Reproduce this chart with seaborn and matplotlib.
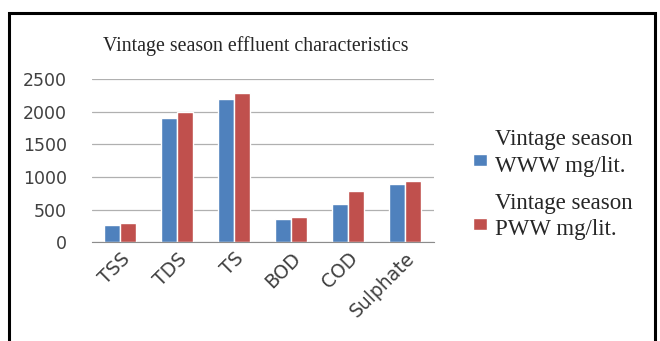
import pandas as pd
import seaborn as sns
import matplotlib.pyplot as plt
from matplotlib.patches import Rectangle
from matplotlib.legend_handler import HandlerPatch

params = ['TSS', 'TDS', 'TS', 'BOD', 'COD', 'Sulphate']
www = [270, 1900, 2200, 350, 590, 890]
pww = [290, 2000, 2290, 390, 790, 940]
series = ['Vintage season\nWWW mg/lit.', 'Vintage season\nPWW mg/lit.']

df = pd.DataFrame({'Parameter': params * 2,
                   'Value': www + pww,
                   'Series': [series[0]] * len(params) + [series[1]] * len(params)})

sns.set_style('white')
plt.rcParams['font.family'] = ['DejaVu Sans']

fig = plt.figure(figsize=(6.6, 3.41), dpi=100)
ax = fig.add_axes([0.139, 0.29, 0.518, 0.478])

sns.barplot(data=df, x='Parameter', y='Value', hue='Series',
            palette=['#4F81BD', '#C0504D'], width=0.56, saturation=1,
            ax=ax, legend=True)

ax.set_ylim(0, 2500)
ax.set_yticks([0, 500, 1000, 1500, 2000, 2500])
ax.yaxis.grid(True, color='#b0b0b0', linewidth=0.9)
ax.set_axisbelow(True)
ax.set_xlabel('')
ax.set_ylabel('')
for s in ['top', 'right', 'left']:
    ax.spines[s].set_visible(False)
ax.spines['bottom'].set_color('#8c8c8c')
ax.tick_params(axis='y', labelsize=12.5, colors='#404040', length=0, pad=18)
ax.tick_params(axis='x', labelsize=13.5, colors='#404040', length=0, pad=5)
for lab in ax.get_xticklabels():
    lab.set_rotation(45)
    lab.set_ha('right')
    lab.set_rotation_mode('anchor')


# legend swatch sits a bit lower than the middle of the two-line label
def low_patch(legend, orig_handle, xdescent, ydescent, width, height, fontsize):
    return Rectangle((-xdescent, -ydescent - 0.33 * fontsize), width, height)


handles, labels = ax.get_legend_handles_labels()
leg = ax.legend(handles, labels, loc='upper left', bbox_to_anchor=(0.700, 0.655),
                bbox_transform=fig.transFigure, frameon=False,
                prop={'family': 'Liberation Serif', 'size': 16.5},
                handlelength=0.6, handleheight=0.4, handletextpad=0.35,
                labelspacing=0.7, borderpad=0,
                handler_map={h: HandlerPatch(patch_func=low_patch) for h in handles})
for t in leg.get_texts():
    t.set_linespacing(1.35)

fig.text(0.387, 0.865, 'Vintage season effluent characteristics',
         family='Liberation Serif', fontsize=14.3, ha='center', va='center')

fig.patches.append(Rectangle((0.014, -0.05), 0.978, 1.012,
                             transform=fig.transFigure, fill=False,
                             edgecolor='black', linewidth=2.2))

fig.savefig('out.png', dpi=100)
